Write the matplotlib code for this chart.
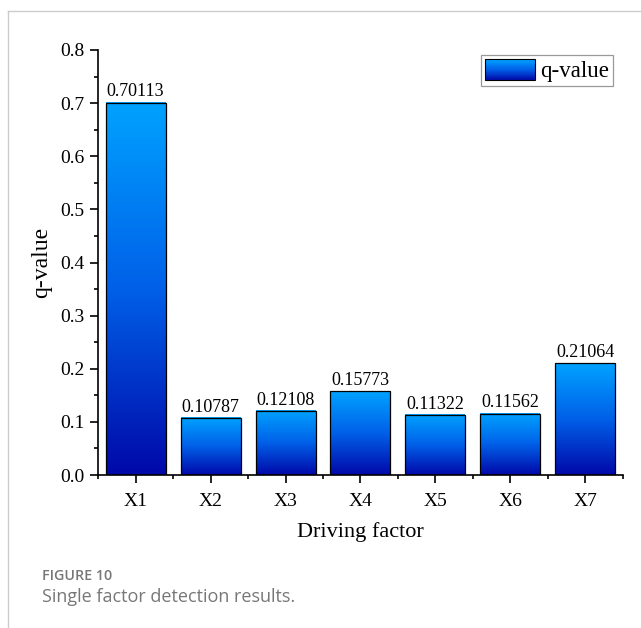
import numpy as np
import matplotlib
matplotlib.use("Agg")
import matplotlib.pyplot as plt
from matplotlib.colors import LinearSegmentedColormap
from matplotlib.legend_handler import HandlerBase
from matplotlib.patches import Rectangle, Patch
from matplotlib.lines import Line2D
from matplotlib.ticker import MultipleLocator, FormatStrFormatter

factors = ["X1", "X2", "X3", "X4", "X5", "X6", "X7"]
q_values = [0.70113, 0.10787, 0.12108, 0.15773, 0.11322, 0.11562, 0.21064]
value_labels = ["0.70113", "0.10787", "0.12108", "0.15773", "0.11322", "0.11562", "0.21064"]

SERIF = "Liberation Serif"
BLUES = LinearSegmentedColormap.from_list("blues", ["#0008A8", "#0060E8", "#00A2FF"])


class GradientHandler(HandlerBase):
    # legend key drawn as stacked strips running dark -> light
    def create_artists(self, legend, orig_handle, xdescent, ydescent,
                       width, height, fontsize, trans):
        n = 30
        arts = []
        for i in range(n):
            r = Rectangle((-xdescent, -ydescent + height * i / n), width, height / n + 0.2,
                          facecolor=BLUES(i / (n - 1)), edgecolor="none", transform=trans)
            arts.append(r)
        arts.append(Rectangle((-xdescent, -ydescent), width, height, facecolor="none",
                              edgecolor="black", lw=0.8, transform=trans))
        return arts


def main():
    fig = plt.figure(figsize=(6.41, 6.28), dpi=100)
    ax = fig.add_axes([0.1529, 0.2436, 0.819, 0.6768])

    x = np.arange(1, len(factors) + 1)
    w = 0.8
    grad = np.linspace(0, 1, 256).reshape(-1, 1)
    for xi, q, lab in zip(x, q_values, value_labels):
        ax.imshow(grad, cmap=BLUES, origin="lower", aspect="auto",
                  extent=(xi - w / 2, xi + w / 2, 0, q), zorder=2)
        ax.bar(xi, q, width=w, facecolor="none", edgecolor="black", lw=0.9, zorder=3)
        ax.text(xi, q + 0.004, lab, ha="center", va="bottom", fontsize=13,
                family=SERIF, zorder=4)

    ax.set_xlim(0.5, 7.5)
    ax.set_ylim(0, 0.8)
    ax.set_xticks(x)
    ax.set_xticklabels(factors)
    ax.xaxis.set_minor_locator(MultipleLocator(0.5))
    ax.yaxis.set_major_locator(MultipleLocator(0.1))
    ax.yaxis.set_minor_locator(MultipleLocator(0.05))
    ax.yaxis.set_major_formatter(FormatStrFormatter("%.1f"))

    for s in ["top", "right"]:
        ax.spines[s].set_visible(False)
    for s in ["left", "bottom"]:
        ax.spines[s].set_linewidth(1.2)
    ax.tick_params(which="major", direction="out", length=6, width=1.2, labelsize=14)
    ax.tick_params(axis="x", which="major", pad=7)
    ax.tick_params(which="minor", direction="out", length=3, width=1.2)
    for t in ax.get_xticklabels() + ax.get_yticklabels():
        t.set_family(SERIF)
    ax.set_xlabel("Driving factor", fontsize=16, family=SERIF, labelpad=9)
    ax.set_ylabel("q-value", fontsize=17, family=SERIF, labelpad=6)

    leg = ax.legend([Patch()], ["q-value"], handler_map={Patch: GradientHandler()},
                    loc="upper right", bbox_to_anchor=(0.981, 0.988), fancybox=False,
                    framealpha=1, edgecolor="#999999", handlelength=2.18, handleheight=1.05,
                    handletextpad=0.22, borderpad=0.17, borderaxespad=0,
                    prop={"family": SERIF, "size": 16.5})
    leg.get_frame().set_linewidth(0.9)

    # page frame lines and caption
    fig.add_artist(Line2D([8 / 641, 1], [1 - 11 / 628] * 2, color="#cccccc", lw=1.0))
    fig.add_artist(Line2D([8 / 641] * 2, [0, 1 - 11 / 628], color="#cccccc", lw=1.0))
    fig.text(42 / 641, 1 - 580 / 628, "FIGURE 10", fontsize=10.3, color="#777777",
             family="Open Sans", weight="semibold", va="baseline")
    fig.text(42 / 641, 1 - 602 / 628, "Single factor detection results.", fontsize=13,
             color="#777777", family="Open Sans", va="baseline")

    fig.savefig("out.png", dpi=100)


if __name__ == "__main__":
    main()
